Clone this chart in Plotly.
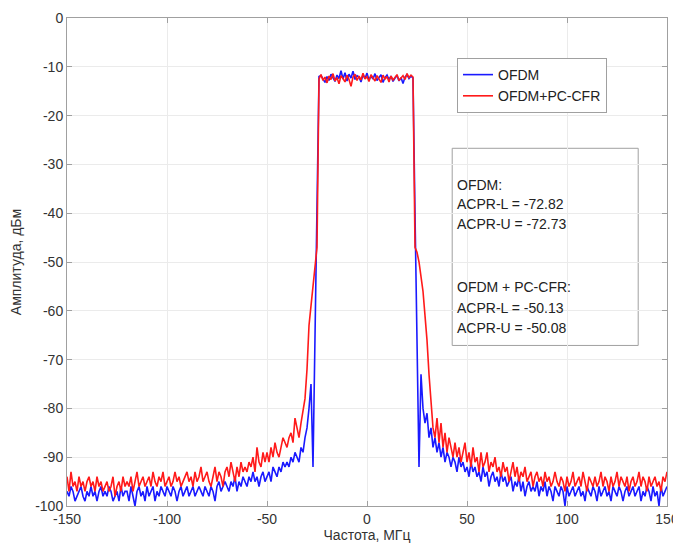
import plotly.graph_objects as go

freq = list(range(-150, 151))

ofdm = [
    -97, -98, -96, -97, -99, -98, -97, -96, -98, -99,
    -97, -98, -96, -98, -97, -99, -97, -96, -98, -97,
    -98, -96, -97, -99, -98, -97, -99, -96, -98, -97,
    -97, -99, -96, -98, -100, -97, -96, -98, -97, -99,
    -96, -98, -97, -96, -99, -97, -98, -96, -97, -98,
    -96, -97, -98, -96, -97, -99, -97, -96, -98, -97,
    -96, -98, -97, -96, -98, -97, -96, -97, -98, -96,
    -97, -98, -96, -97, -99, -96, -95, -97, -96, -95,
    -96, -97, -95, -96, -94, -97, -95, -96, -94, -95,
    -96, -94, -95, -93, -95, -94, -96, -94, -93, -95,
    -94, -93, -95, -92, -93, -94, -92, -93, -91, -92,
    -91, -92, -90, -91, -89, -90, -91, -88, -89, -86,
    -84, -80, -75, -92, -62, -35,
    -12.0, -11.8, -12.5, -13.2, -12.0, -12.8, -11.5, -12.2, -13.0, -11.7,
    -12.4, -10.8, -12.5, -11.2, -12.9, -11.5, -12.3, -10.9, -12.6, -11.8,
    -12.1, -13.1, -11.6, -12.4, -11.3, -12.7, -11.9, -12.5, -11.4, -12.8,
    -12.1, -11.6, -13.2, -12.2, -11.7, -12.6, -11.9, -13.0, -12.3, -11.8,
    -12.9, -12.2, -13.4, -12.1, -11.6, -12.4, -11.9, -12.3,
    -40, -70, -92, -73, -80, -83, -81, -86, -84, -88,
    -86, -89, -87, -90, -88, -91, -89, -90, -92, -90,
    -91, -93, -90, -92, -91, -93, -92, -94, -91, -93,
    -92, -94, -93, -95, -92, -94, -93, -96, -94, -93,
    -95, -94, -96, -93, -95, -94, -96, -95, -94, -97,
    -95, -96, -94, -97, -95, -98, -96, -95, -97, -96,
    -97, -95, -98, -96, -97, -95, -98, -96, -97, -99,
    -96, -97, -98, -96, -97, -100, -96, -98, -97, -96,
    -98, -97, -96, -98, -97, -99, -96, -97, -98, -96,
    -97, -99, -96, -98, -97, -96, -98, -97, -99, -96,
    -97, -98, -96, -97, -99, -97, -96, -98, -97, -96,
    -98, -97, -96, -99, -97, -98, -96, -97, -99, -96,
    -98, -97, -100, -96, -98, -97, -96,
]

ofdm_cfr = [
    -94, -97, -93, -96, -95, -97, -94, -96, -95, -97,
    -95, -94, -96, -95, -97, -94, -96, -95, -97, -96,
    -95, -97, -96, -94, -98, -96, -95, -97, -94, -96,
    -95, -96, -94, -97, -95, -93, -96, -95, -94, -96,
    -95, -94, -96, -93, -95, -96, -94, -95, -93, -96,
    -95, -94, -96, -95, -93, -95, -94, -96, -95, -94,
    -93, -95, -94, -96, -93, -95, -94, -92, -95, -94,
    -93, -95, -96, -94, -92, -95, -93, -94, -96, -93,
    -92, -94, -91, -93, -95, -92, -94, -91, -93, -92,
    -93, -91, -92, -90, -93, -88, -91, -92, -89, -91,
    -89, -91, -88, -90, -87, -89, -90, -88, -86, -87,
    -88, -86, -85, -87, -82, -84, -86, -83, -80, -78,
    -72, -63, -59, -55, -50, -47,
    -12.5, -11.6, -12.8, -12.1, -13.3, -11.9, -12.6, -11.4, -12.9, -12.2,
    -13.5, -11.8, -12.4, -13.1, -11.7, -12.6, -14.0, -12.1, -11.5, -12.8,
    -11.9, -12.7, -11.3, -12.5, -12.0, -13.0, -11.6, -12.4, -12.9, -11.8,
    -12.6, -13.2, -11.7, -12.5, -12.0, -13.1, -11.9, -12.7, -12.2, -11.6,
    -12.8, -12.3, -11.8, -12.6, -11.4, -12.2, -11.7, -12.1,
    -47, -48, -50, -53, -56, -61, -66, -73, -78, -84,
    -86, -82, -87, -83, -88, -85, -89, -86, -88, -90,
    -87, -90, -88, -91, -89, -87, -91, -89, -92, -88,
    -91, -90, -93, -89, -92, -91, -89, -93, -91, -92,
    -90, -93, -92, -94, -91, -93, -92, -95, -93, -91,
    -94, -92, -95, -93, -94, -92, -95, -94, -93, -96,
    -94, -93, -95, -94, -96, -93, -95, -94, -96, -95,
    -93, -95, -96, -94, -95, -97, -94, -96, -95, -93,
    -96, -95, -94, -96, -93, -95, -97, -94, -95, -96,
    -94, -96, -95, -93, -96, -94, -95, -97, -94, -96,
    -95, -93, -96, -94, -95, -96, -94, -97, -95, -94,
    -96, -95, -93, -96, -94, -95, -97, -94, -96, -95,
    -94, -96, -95, -97, -94, -95, -93,
]

x_ticks = [-150, -100, -50, 0, 50, 100, 150]
y_ticks = [0, -10, -20, -30, -40, -50, -60, -70, -80, -90, -100]

info_lines = [
    ("OFDM:", 0.658),
    ("ACPR-L = -72.82", 0.619),
    ("ACPR-U = -72.73", 0.577),
    ("OFDM + PC-CFR:", 0.448),
    ("ACPR-L = -50.13", 0.406),
    ("ACPR-U = -50.08", 0.365),
]

font_family = "Liberation Sans, Arial, sans-serif"

fig = go.Figure()
fig.add_trace(go.Scatter(x=freq, y=ofdm, mode="lines", name="OFDM",
                         line=dict(color="#1a1aff", width=1.6)))
fig.add_trace(go.Scatter(x=freq, y=ofdm_cfr, mode="lines", name="OFDM+PC-CFR",
                         line=dict(color="#ff1a1a", width=1.6)))

axis_common = dict(
    showgrid=True, gridcolor="#ebebeb", gridwidth=1,
    showline=True, linecolor="#a0a0a0", linewidth=1, mirror="allticks",
    ticks="inside", ticklen=5, tickcolor="#a0a0a0",
    zeroline=False, automargin=False,
    tickfont=dict(family=font_family, size=14, color="#333333"),
)

fig.update_xaxes(range=[-150, 150], tickvals=x_ticks,
                 ticktext=[str(v) for v in x_ticks],
                 title=dict(text="Частота, МГц", standoff=4,
                            font=dict(family=font_family, size=14, color="#333333")),
                 **axis_common)
fig.update_yaxes(range=[-100, 0], tickvals=y_ticks,
                 ticktext=[str(v) for v in y_ticks],
                 title=dict(text="Амплитуда, дБм",
                            font=dict(family=font_family, size=14, color="#333333")),
                 **axis_common)

fig.add_shape(type="rect", xref="paper", yref="paper",
              x0=0.642, x1=0.952, y0=0.329, y1=0.733,
              line=dict(color="#a0a0a0", width=1), fillcolor="white", layer="below")

for txt, yy in info_lines:
    fig.add_annotation(text=txt, xref="paper", yref="paper", x=0.647, y=yy,
                       xanchor="left", yanchor="middle", showarrow=False,
                       font=dict(family=font_family, size=14, color="#222222"))

fig.update_layout(
    width=673, height=535,
    margin=dict(l=59, r=14, t=10, b=37),
    paper_bgcolor="white", plot_bgcolor="white",
    legend=dict(x=0.65, y=0.918, xanchor="left", yanchor="top",
                bgcolor="white", bordercolor="#a0a0a0", borderwidth=1,
                font=dict(family=font_family, size=14, color="#222222"),
                itemwidth=30, tracegroupgap=0),
    showlegend=True,
)

fig.write_html("out.html")
